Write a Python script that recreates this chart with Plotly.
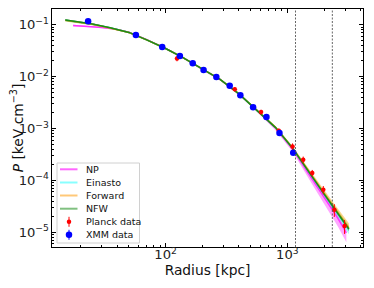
import plotly.graph_objects as go

# ---------------- data ----------------
# model curves (radius in kpc, pressure in keV cm^-3)
r_nfw = [15, 20, 25, 35, 50, 70, 100, 140, 200, 280, 400, 560, 800, 1100, 1500, 2000, 2600, 3200]
p_nfw = [0.123, 0.111, 0.103, 0.087, 0.071, 0.051, 0.0348, 0.0229, 0.0139, 0.0088,
         0.00465, 0.00229, 0.00104, 0.00042, 0.000144, 5.5e-5, 2.3e-5, 1.16e-5]
p_nfw_lo = [0.119, 0.108, 0.100, 0.085, 0.069, 0.0497, 0.0339, 0.0223, 0.0135, 0.0086,
            0.00452, 0.00222, 0.001, 0.000402, 0.000136, 5.1e-5, 2.12e-5, 1.05e-5]
p_nfw_hi = [0.127, 0.114, 0.106, 0.089, 0.073, 0.0523, 0.0357, 0.0235, 0.0143, 0.009,
            0.00478, 0.00236, 0.00108, 0.000438, 0.000152, 5.9e-5, 2.5e-5, 1.28e-5]

r_fwd = [15, 20, 25, 35, 50, 70, 100, 140, 200, 280, 400, 560, 800, 1100, 1500, 2000, 2600, 3200]
p_fwd = [0.121, 0.110, 0.102, 0.086, 0.0705, 0.051, 0.0347, 0.0229, 0.0139, 0.0088,
         0.00466, 0.0023, 0.00105, 0.000425, 0.000147, 5.7e-5, 2.4e-5, 1.22e-5]
p_fwd_lo = [0.115, 0.105, 0.098, 0.083, 0.068, 0.049, 0.0335, 0.0222, 0.0135, 0.0085,
            0.0045, 0.0022, 0.00101, 0.0004, 0.000137, 5.3e-5, 2.2e-5, 1.1e-5]
p_fwd_hi = [0.127, 0.115, 0.106, 0.089, 0.073, 0.053, 0.036, 0.0236, 0.0143, 0.0091,
            0.0048, 0.00238, 0.0011, 0.00046, 0.000165, 6.6e-5, 2.85e-5, 1.5e-5]

r_ein = [15, 20, 25, 35, 50, 70, 100, 140, 200, 280, 400, 560, 800, 1100, 1500, 2000, 2600, 3200]
p_ein = [0.122, 0.110, 0.102, 0.087, 0.071, 0.051, 0.0348, 0.0229, 0.0139, 0.0088,
         0.00465, 0.00229, 0.00104, 0.00042, 0.000143, 5.45e-5, 2.28e-5, 1.14e-5]
p_ein_lo = [0.117, 0.106, 0.098, 0.084, 0.068, 0.049, 0.0336, 0.0222, 0.0135, 0.0085,
            0.0045, 0.0022, 0.00099, 0.00039, 0.000128, 4.7e-5, 1.9e-5, 9.2e-6]
p_ein_hi = [0.127, 0.114, 0.106, 0.090, 0.074, 0.053, 0.036, 0.0236, 0.0143, 0.0091,
            0.0048, 0.00237, 0.00108, 0.00045, 0.000157, 6.2e-5, 2.65e-5, 1.36e-5]

r_np = [17.4, 20, 25, 30, 38, 50, 70, 100, 140, 200, 280, 400, 560, 800, 1100, 1500, 2000, 2600, 3050]
p_np = [0.096, 0.0945, 0.092, 0.088, 0.083, 0.0715, 0.0515, 0.0348, 0.0229, 0.0139, 0.0088,
        0.00462, 0.00226, 0.00101, 0.000405, 0.000132, 4.8e-5, 1.85e-5, 9.8e-6]
p_np_lo = [0.092, 0.091, 0.089, 0.085, 0.080, 0.069, 0.0498, 0.0336, 0.0221, 0.0133, 0.0084,
           0.0044, 0.00213, 0.00093, 0.00036, 0.000108, 3.6e-5, 1.3e-5, 6.4e-6]
p_np_hi = [0.100, 0.098, 0.095, 0.091, 0.086, 0.074, 0.053, 0.036, 0.0236, 0.0144, 0.0091,
           0.0048, 0.00235, 0.00106, 0.000425, 0.000142, 5.3e-5, 2.1e-5, 1.12e-5]

# Planck data points
r_planck = [124, 370, 608, 850, 1102, 1349, 1600, 1972, 2430, 2950]
p_planck = [0.0222, 0.00573, 0.00207, 0.000904, 0.000451, 0.00025, 0.000139, 6.6e-5, 2.73e-5, 1.33e-5]
e_planck = [0.0025, 0.0005, 0.00022, 0.00009, 6.5e-5, 3.8e-5, 2.0e-5, 1.2e-5, 7.5e-6, 4.0e-6]

# XMM data points
r_xmm = [23.1, 57, 93.8, 131, 167, 205, 261, 336, 411, 523, 673, 861, 1117]
p_xmm = [0.116, 0.0634, 0.0373, 0.025, 0.0181, 0.01346, 0.00986, 0.00663, 0.00439,
         0.00258, 0.00166, 0.000816, 0.000341]
e_xmm = [0.004, 0.002, 0.0011, 0.0007, 0.0005, 0.0004, 0.0003, 0.0002, 0.00013,
         8e-5, 5e-5, 3e-5, 1.5e-5]

# vertical reference radii
r_marks = [1166, 2340]

# legend labels and colours
legend_labels = ["NP", "Einasto", "Forward", "NFW", "Planck data", "XMM data"]
legend_colors = ["#ff66ff", "#88ffff", "#ffc878", "#80c080", "red", "blue"]

# ---------------- figure ----------------
fig = go.Figure()

def band(r, lo, hi, color):
    fig.add_trace(go.Scatter(x=r, y=lo, mode="lines", line=dict(width=0),
                             showlegend=False, hoverinfo="skip"))
    fig.add_trace(go.Scatter(x=r, y=hi, mode="lines", line=dict(width=0),
                             fill="tonexty", fillcolor=color,
                             showlegend=False, hoverinfo="skip"))

band(r_np, p_np_lo, p_np_hi, "rgba(255,0,255,0.35)")
band(r_ein, p_ein_lo, p_ein_hi, "rgba(0,230,230,0.35)")
band(r_fwd, p_fwd_lo, p_fwd_hi, "rgba(255,165,0,0.45)")
band(r_nfw, p_nfw_lo, p_nfw_hi, "rgba(0,128,0,0.45)")

fig.add_trace(go.Scatter(x=r_np, y=p_np, mode="lines", line=dict(color="#ff33ff", width=1.5),
                         showlegend=False))
fig.add_trace(go.Scatter(x=r_ein, y=p_ein, mode="lines", line=dict(color="#33e0e0", width=1.5),
                         showlegend=False))
fig.add_trace(go.Scatter(x=r_fwd, y=p_fwd, mode="lines", line=dict(color="#ffa500", width=1.5),
                         showlegend=False))
fig.add_trace(go.Scatter(x=r_nfw, y=p_nfw, mode="lines", line=dict(color="#1a8a1a", width=1.5),
                         showlegend=False))

fig.add_trace(go.Scatter(x=r_planck, y=p_planck, mode="markers", name="Planck data",
                         marker=dict(color="red", size=4.5), showlegend=False,
                         error_y=dict(type="data", array=e_planck, color="red",
                                      thickness=1, width=0)))
fig.add_trace(go.Scatter(x=r_xmm, y=p_xmm, mode="markers", name="XMM data",
                         marker=dict(color="blue", size=6.5), showlegend=False,
                         error_y=dict(type="data", array=e_xmm, color="blue",
                                      thickness=1, width=0)))

for rv in r_marks:
    fig.add_shape(type="line", x0=rv, x1=rv, y0=0, y1=1, xref="x", yref="paper",
                  line=dict(color="#555555", width=0.9, dash="2px,1.5px"))

# ---- hand-drawn compact legend (matplotlib-like spacing) ----
PX0, PX1, PY0, PY1 = 52.0, 363.0, 9.0, 247.0
def px(xp):
    return (xp - PX0) / (PX1 - PX0)
def py(yp):
    return (PY1 - yp) / (PY1 - PY0)

fig.add_shape(type="rect", xref="paper", yref="paper",
              x0=px(57), x1=px(139.5), y0=py(243), y1=py(163),
              line=dict(color="#d0d0d0", width=1), fillcolor="rgba(255,255,255,0.8)",
              layer="above")
row_y = [169.3, 182.5, 195.5, 208.7, 221.8, 234.8]
for i, (lab, col) in enumerate(zip(legend_labels, legend_colors)):
    yy = py(row_y[i])
    if i < 4:
        fig.add_shape(type="line", xref="paper", yref="paper",
                      x0=px(60), x1=px(77.5), y0=yy, y1=yy,
                      line=dict(color=col, width=2), layer="above")
    else:
        sz = 4.5 if i == 4 else 6.5
        fig.add_shape(type="line", xref="paper", yref="paper",
                      x0=px(69), x1=px(69), y0=py(row_y[i] - 5), y1=py(row_y[i] + 5),
                      line=dict(color=col, width=1), layer="above")
        fig.add_shape(type="circle", xref="paper", yref="paper",
                      xsizemode="pixel", ysizemode="pixel",
                      xanchor=px(69), yanchor=yy,
                      x0=-sz / 2, x1=sz / 2, y0=-sz / 2, y1=sz / 2,
                      line=dict(color=col, width=0), fillcolor=col, layer="above")
    fig.add_annotation(text=lab, xref="paper", yref="paper", x=px(84), y=yy,
                       xanchor="left", yanchor="middle", showarrow=False,
                       font=dict(size=9.5, color="#111"))

axis_common = dict(showline=True, linecolor="black", linewidth=1, mirror="allticks",
                   ticks="inside", ticklen=4, tickcolor="black", showgrid=False,
                   zeroline=False, exponentformat="power", dtick=1, automargin=False,
                   minor=dict(ticks="inside", ticklen=2, tickcolor="black", dtick="D1",
                              showgrid=False),
                   tickfont=dict(size=10.5, color="#222"))

fig.update_xaxes(type="log", range=[1.067, 3.621], ticklabelstandoff=-4,
                 title=dict(text="Radius [kpc]", font=dict(size=13.8, color="#111"), standoff=0),
                 **axis_common)
fig.update_yaxes(type="log", range=[-5.283, -0.698],
                 title=dict(text="<i>P</i> [keV cm<sup>−3</sup>]", font=dict(size=13.8, color="#111"),
                            standoff=1),
                 **axis_common)

# page body has an 8px margin, so the figure is 8px smaller and margins shifted
fig.update_layout(
    width=366, height=280,
    margin=dict(l=44, r=11, t=1, b=41),
    paper_bgcolor="white", plot_bgcolor="white",
    font=dict(family="DejaVu Sans", color="#111"),
    showlegend=False,
)

fig.write_html("out.html")
